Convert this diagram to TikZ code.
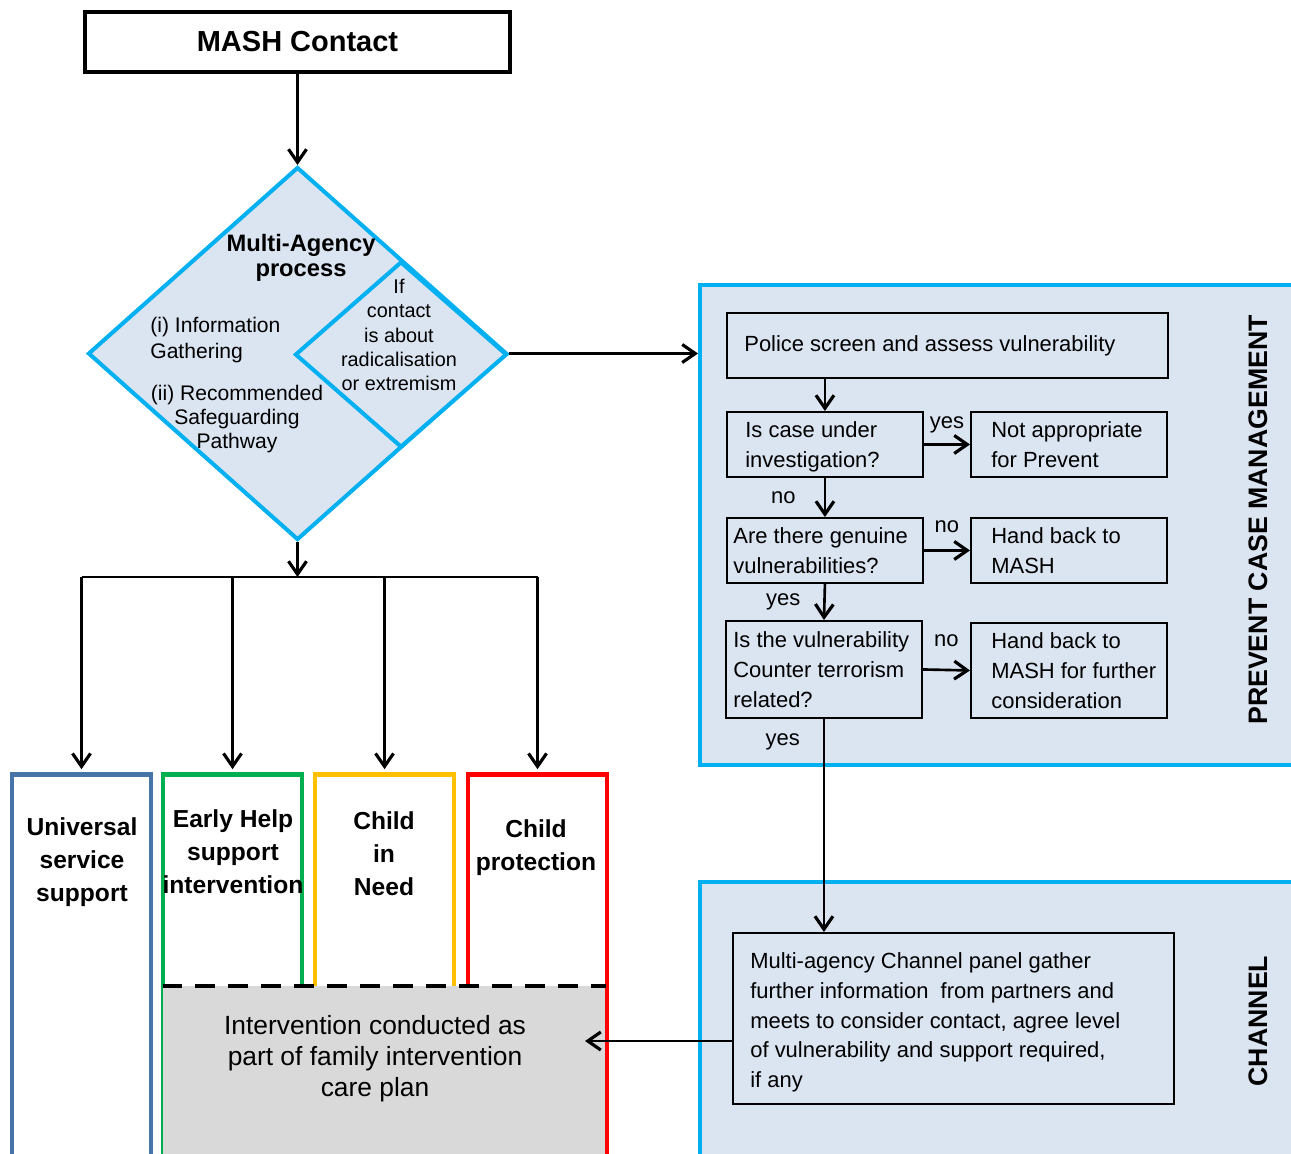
\documentclass[tikz,border=0pt]{standalone}
\usepackage{fontspec}
\setmainfont{Liberation Sans}
\usepackage{xcolor}
\usepackage{tikz}
\usetikzlibrary{shapes, shapes.geometric, arrows.meta, positioning}

\definecolor{mapline}{RGB}{0,176,240}
\definecolor{mapfill}{RGB}{219,228,241}
\definecolor{usbline}{RGB}{70,116,168}
\definecolor{ehline}{RGB}{0,176,80}
\definecolor{cinline}{RGB}{255,192,0}
\definecolor{cpline}{RGB}{255,0,0}
\definecolor{planfill}{RGB}{217,217,217}

\newcommand{\bodysize}{\fontsize{12.5}{17}\selectfont}

\tikzset{
  flowline/.style={line width=1.5pt},
  flowarrow/.style={line width=1.5pt, -{Straight Barb[length=2.6mm, width=3.6mm, line width=1.8pt]}},
  mapdiamond/.style={diamond, draw=mapline, fill=mapfill, line width=2.3pt, inner sep=0pt},
  panel/.style={draw=mapline, fill=mapfill, line width=2.3pt, inner sep=0pt, anchor=north west},
  panellabel/.style={rotate=90, font=\fontsize{15.2}{18}\selectfont\bfseries},
  qbox/.style={draw, line width=1.1pt, anchor=north west, inner sep=0pt, minimum width=3.92cm, minimum height=1.3cm},
  qtext/.style={anchor=west, align=left, inner sep=0pt, font=\bodysize},
  pathbox/.style={draw, line width=2.8pt, inner sep=0pt, anchor=north, minimum width=2.78cm, minimum height=8cm},
  pathtext/.style={align=center, font=\fontsize{14}{18.8}\selectfont\bfseries},
  yesno/.style={font=\bodysize, inner sep=1pt}
}

\begin{document}
\begin{tikzpicture}[x=0.02cm, y=-0.02cm]
    \useasboundingbox (0,0) rectangle (1291,1153);
    \clip (0,0) rectangle (1291,1153);

    % Contacto MASH y proceso multi-agencia
    \node[draw, line width=2.4pt, minimum width=8.5cm, minimum height=1.2cm,
          font=\fontsize{16.5}{20}\selectfont\bfseries] (mash) at (297.5,42) {MASH Contact};
    \node[mapdiamond, minimum width=8.38cm, minimum height=7.46cm] (map) at (297.5,353.5) {};
    \node[mapdiamond, minimum width=4.24cm, minimum height=3.72cm] (radical) at (401,354.5) {};
    \node[align=center, font=\fontsize{13.5}{14.2}\selectfont\bfseries] (maptitle) at (301,258) {Multi-Agency\\process};
    \node[anchor=west, align=left, inner sep=0pt, font=\fontsize{12}{14.8}\selectfont] (mapinfo) at (150,340) {(i) Information\\Gathering};
    \node[align=center, font=\fontsize{12}{13.6}\selectfont] (mappath) at (237,419) {(ii) Recommended\\Safeguarding\\Pathway};
    \node[align=center, font=\fontsize{11.3}{13.9}\selectfont] (radtext) at (399,335) {If\\contact\\is about\\radicalisation\\or extremism};
    \draw[flowarrow] (mash) -- (map);

    % Panel Prevent
    \node[panel, minimum width=12.2cm, minimum height=9.6cm] (prevent) at (698,283) {};
    \node[panellabel] (preventlabel) at (1258,520) {PREVENT CASE MANAGEMENT};
    \draw[flowarrow] (map.east) -- (map.east -| prevent.west);

    \node[qbox, minimum width=8.82cm] (police) at (726,312) {};
    \node[qtext] (policetext) at ([xshift=0.36cm]police.west) {Police screen and assess vulnerability};
    \node[qbox] (iscase) at (726,411) {};
    \node[qtext] (iscasetext) at ([xshift=0.38cm, yshift=-0.05cm]iscase.west) {Is case under\\investigation?};
    \node[qbox] (notprev) at (970,411) {};
    \node[qtext] (notprevtext) at ([xshift=0.42cm]notprev.west) {Not appropriate\\for Prevent};
    \node[qbox] (genuine) at (726,517) {};
    \node[qtext] (genuinetext) at ([xshift=0.14cm]genuine.west) {Are there genuine\\vulnerabilities?};
    \node[qbox] (handback) at (970,517) {};
    \node[qtext] (handbacktext) at ([xshift=0.42cm]handback.west) {Hand back to\\MASH};
    \node[qbox, minimum height=1.94cm] (ctrel) at (725,620) {};
    \node[qtext] (ctreltext) at ([xshift=0.16cm]ctrel.west) {Is the vulnerability\\Counter terrorism\\related?};
    \node[qbox, minimum height=1.9cm] (handfurther) at (970,622) {};
    \node[qtext] (handfurthertext) at ([xshift=0.42cm]handfurther.west) {Hand back to\\MASH for further\\consideration};

    \draw[flowarrow] (police.south -| iscase.north) -- (iscase.north);
    \draw[flowarrow] (iscase.east) -- node[yesno, above=5pt] (yes1) {yes} (notprev.west);
    \draw[flowarrow] (iscase.south) -- node[yesno, left=15pt] (no1) {no} (genuine.north);
    \draw[flowarrow] (genuine.east) -- node[yesno, above=8.5pt] (no2) {no} (handback.west);
    \draw[flowarrow] (genuine.south) -- node[yesno, left=12pt] (yes2) {yes} (ctrel.north);
    \draw[flowarrow] (ctrel.east) -- node[yesno, above=11.5pt] (no3) {no} (handfurther.west);

    % Panel Channel
    \node[panel, minimum width=12.2cm, minimum height=5.8cm] (channelpanel) at (698,880) {};
    \node[panellabel] (channellabel) at (1258,1021) {CHANNEL};
    \node[qbox, minimum width=8.82cm, minimum height=3.42cm] (channel) at (732,932) {};
    \node[qtext, font=\fontsize{12.5}{16.9}\selectfont] (channeltext) at ([xshift=0.36cm, yshift=-0.08cm]channel.west)
        {Multi-agency Channel panel gather\\further information\ \ from partners and\\meets to consider contact, agree level\\of vulnerability and support required,\\if any};
    \draw[flowarrow] (ctrel.south) -- node[yesno, left=12pt, pos=0.11] (yes3) {yes} (ctrel.south |- channel.north);

    % Rutas de salvaguarda
    \foreach \bx/\bcol/\bxx in {usb/usbline/81.5, ehsi/ehline/232.5, cin/cinline/384.5, cp/cpline/537.5} {
        \node[pathbox, draw=\bcol] (\bx) at (\bxx,772) {};
    }
    \node[fill=planfill, inner sep=0pt, anchor=north west, minimum width=8.85cm, minimum height=3.6cm] (plan) at (162.5,986) {};
    \draw[line width=2.4pt, dash pattern=on 0.4cm off 0.26cm] (plan.north west) -- (plan.north east);
    \node[align=center, font=\fontsize{15}{17.6}\selectfont] (plantext) at (375,1059)
        {Intervention conducted as\\part of family intervention\\care plan};
    \foreach \tn/\tx/\ty/\lbl in {usbtext/82/862/{Universal\\service\\support},
                                  ehsitext/233/852/{Early Help\\support\\intervention},
                                  cintext/384/854/{Child\\in\\Need},
                                  cptext/536/848/{Child\\protection}} {
        \node[pathtext] (\tn) at (\tx,\ty) {\lbl};
    }

    \coordinate (split) at (297.5,577);
    \draw[flowarrow] (map.south) -- (split);
    \draw[flowline] (usb.north |- split) -- (cp.north |- split);
    \foreach \b in {usb, ehsi, cin, cp} {
        \draw[flowarrow, shorten >=1.6pt] (\b.north |- split) -- (\b.north);
    }

    \coordinate (planin) at (585,1041);
    \draw[flowarrow] (channel.west |- planin) -- (planin);
\end{tikzpicture}
\end{document}
